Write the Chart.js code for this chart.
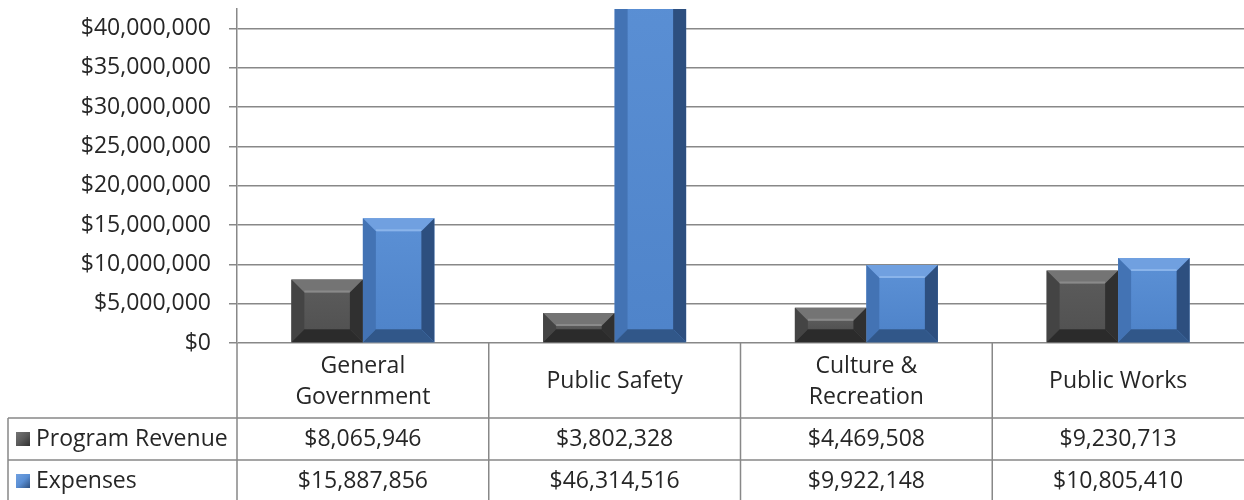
<!DOCTYPE html>
<html>
<head>
<meta charset="utf-8">
<title>Program Revenue vs Expenses</title>
<script src="https://cdn.jsdelivr.net/npm/chart.js@4.4.1/dist/chart.umd.min.js"></script>
<style>
    html, body { margin: 0; padding: 0; background: #fff; }
    #chartWrap { width: 1244px; height: 500px; }
</style>
</head>
<body>
<div id="chartWrap"><canvas id="revenueChart" width="1244" height="500"></canvas></div>
<script>
// Functions: revenue and expenses by function
const categories = [['General', 'Government'], 'Public Safety', ['Culture &', 'Recreation'], 'Public Works'];
const seriesNames = ['Program Revenue', 'Expenses'];
const programRevenue = [8065946, 3802328, 4469508, 9230713];
const expenses = [15887856, 46314516, 9922148, 10805410];
const yTicks = [0, 5000000, 10000000, 15000000, 20000000, 25000000, 30000000, 35000000, 40000000];
const yMax = 42500000;

const FONT = '"Open Sans", sans-serif';
const FONT_SIZE = 23;
const TEXT = '#262626';
const LINE = '#888888';

// face + bevel shades per series (gray, blue)
const tones = [
    { face: '#5a5a5a', faceLo: '#525252', top: '#747474', hi: '#8a8a8a', left: '#444444', right: '#303030', bottom: '#2b2b2b' },
    { face: '#5a8fd4', faceLo: '#4f84ca', top: '#70a0e0', hi: '#8ab4ea', left: '#4373b4', right: '#2d4f7f', bottom: '#315789' }
];
const bevelSize = 13;

function money(v) {
    return '$' + Math.round(v).toLocaleString('en-US');
}

function quad(ctx, color, pts) {
    ctx.fillStyle = color;
    ctx.beginPath();
    ctx.moveTo(pts[0][0], pts[0][1]);
    for (let i = 1; i < pts.length; i++) ctx.lineTo(pts[i][0], pts[i][1]);
    ctx.closePath();
    ctx.fill();
}

// Excel-style bevel on each bar
const bevelPlugin = {
    id: 'bevel',
    afterDatasetsDraw(chart) {
        const ctx = chart.ctx;
        const area = chart.chartArea;
        ctx.save();
        ctx.beginPath();
        ctx.rect(area.left, area.top, area.right - area.left, area.bottom - area.top);
        ctx.clip();
        chart.data.datasets.forEach((ds, di) => {
            const t = tones[di];
            chart.getDatasetMeta(di).data.forEach(bar => {
                const l = bar.x - bar.width / 2, r = bar.x + bar.width / 2;
                const top = bar.y, bot = bar.base;
                const d = Math.min(bevelSize, (bot - top) / 2, bar.width / 2);

                // slightly shaded face
                const g = ctx.createLinearGradient(0, top + d, 0, bot - d);
                g.addColorStop(0, t.face);
                g.addColorStop(1, t.faceLo);
                ctx.fillStyle = g;
                ctx.fillRect(l + d, top + d, r - l - 2 * d, bot - top - 2 * d);

                quad(ctx, t.top, [[l, top], [r, top], [r - d, top + d], [l + d, top + d]]);
                quad(ctx, t.left, [[l, top], [l + d, top + d], [l + d, bot - d], [l, bot]]);
                quad(ctx, t.right, [[r, top], [r, bot], [r - d, bot - d], [r - d, top + d]]);
                quad(ctx, t.bottom, [[l, bot], [l + d, bot - d], [r - d, bot - d], [r, bot]]);

                // highlight along the inner top edge
                ctx.strokeStyle = t.hi;
                ctx.lineWidth = 2;
                ctx.beginPath();
                ctx.moveTo(l + d, top + d - 1);
                ctx.lineTo(r - d, top + d - 1);
                ctx.stroke();
            });
        });
        ctx.restore();
    }
};

// data table under the plot (category header + one row per series)
const tablePlugin = {
    id: 'dataTable',
    afterDraw(chart) {
        const ctx = chart.ctx;
        const xs = chart.scales.x;
        const area = chart.chartArea;
        const colW = (xs.right - xs.left) / categories.length;
        const headTop = area.bottom, headBottom = 418, rowSplit = 460, bottom = chart.height;
        const tableLeft = 8;

        ctx.save();
        ctx.strokeStyle = LINE;
        ctx.lineWidth = 1.5;
        ctx.beginPath();
        for (let k = 0; k < categories.length; k++) {
            const bx = xs.left + k * colW;
            ctx.moveTo(bx, headTop);
            ctx.lineTo(bx, bottom);
        }
        ctx.moveTo(tableLeft, headBottom);
        ctx.lineTo(tableLeft, bottom);
        ctx.moveTo(tableLeft, headBottom);
        ctx.lineTo(xs.right, headBottom);
        ctx.moveTo(tableLeft, rowSplit);
        ctx.lineTo(xs.right, rowSplit);
        ctx.stroke();

        ctx.fillStyle = TEXT;
        ctx.font = FONT_SIZE + 'px ' + FONT;
        ctx.textAlign = 'center';
        ctx.textBaseline = 'middle';

        // category headers
        const headMid = (headTop + headBottom) / 2 + 1;
        categories.forEach((c, i) => {
            const cx = xs.getPixelForValue(i);
            const lines = Array.isArray(c) ? c : [c];
            const lh = 31;
            lines.forEach((ln, j) => {
                ctx.fillText(ln, cx, headMid + (j - (lines.length - 1) / 2) * lh);
            });
        });

        // series rows
        const rowMids = [(headBottom + rowSplit) / 2, (rowSplit + bottom) / 2 + 1];
        chart.data.datasets.forEach((ds, di) => {
            const y = rowMids[di];
            ctx.textAlign = 'center';
            ctx.fillStyle = TEXT;
            ds.data.forEach((v, i) => {
                ctx.fillText(money(v), xs.getPixelForValue(i), y);
            });
            // legend key
            const g = ctx.createLinearGradient(16, y - 7, 30, y + 7);
            g.addColorStop(0, tones[di].top);
            g.addColorStop(0.5, tones[di].face);
            g.addColorStop(1, tones[di].right);
            ctx.fillStyle = g;
            ctx.fillRect(16, y - 7, 14, 14);
            ctx.fillStyle = TEXT;
            ctx.textAlign = 'left';
            ctx.fillText(ds.label, 36, y);
        });
        ctx.restore();
    }
};

new Chart(document.getElementById('revenueChart').getContext('2d'), {
    type: 'bar',
    data: {
        labels: categories,
        datasets: [
            {
                label: seriesNames[0],
                data: programRevenue,
                backgroundColor: tones[0].face,
                borderWidth: 0,
                categoryPercentage: 0.568,
                barPercentage: 1
            },
            {
                label: seriesNames[1],
                data: expenses,
                backgroundColor: tones[1].face,
                borderWidth: 0,
                categoryPercentage: 0.568,
                barPercentage: 1
            }
        ]
    },
    options: {
        responsive: false,
        animation: false,
        layout: { padding: { top: 9, bottom: 157, left: 0, right: 0 } },
        plugins: {
            legend: { display: false },
            tooltip: { enabled: false }
        },
        scales: {
            x: { display: false },
            y: {
                min: 0,
                max: yMax,
                afterBuildTicks: s => { s.ticks = yTicks.map(v => ({ value: v })); },
                afterFit: s => { s.width = 237; s.paddingTop = 0; s.paddingBottom = 0; },
                border: { display: true, color: LINE, width: 1.5 },
                grid: { color: LINE, lineWidth: 1.5, tickLength: 8, drawTicks: true },
                ticks: {
                    color: TEXT,
                    padding: 18,
                    font: { family: FONT, size: FONT_SIZE },
                    callback: v => money(v)
                }
            }
        }
    },
    plugins: [bevelPlugin, tablePlugin]
});
</script>
</body>
</html>
